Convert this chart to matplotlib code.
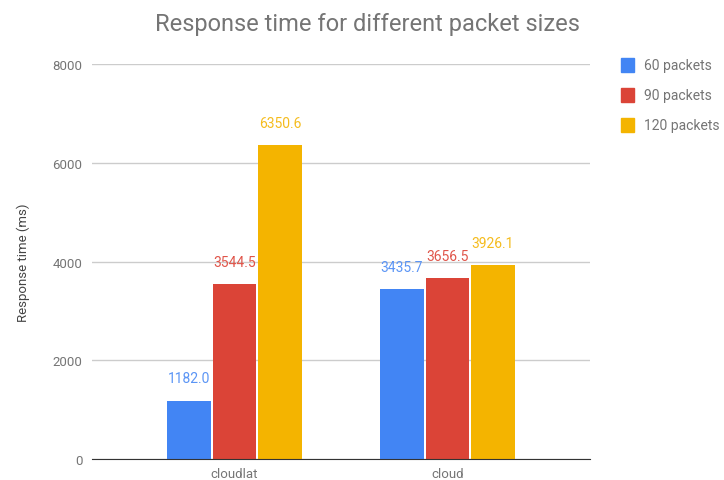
import matplotlib
matplotlib.use("Agg")
import matplotlib.pyplot as plt
from matplotlib.patches import Rectangle
import numpy as np

plt.rcParams['font.family'] = ['Roboto', 'DejaVu Sans']

categories = ["cloudlat", "cloud"]
series_names = ["60 packets", "90 packets", "120 packets"]
series_values = [
    [1182.0, 3435.7],
    [3544.5, 3656.5],
    [6350.6, 3926.1],
]
colors = ["#4285F4", "#DB4437", "#F4B400"]
label_colors = ["#5B95F5", "#E0554A", "#F5BC1E"]
yticks = [0, 2000, 4000, 6000, 8000]

W, H = 724, 481
fig = plt.figure(figsize=(W / 100, H / 100), dpi=100)
ax = fig.add_axes([92 / W, 1 - 460 / H, (590 - 92) / W, (460 - 65) / H])

x = np.arange(len(categories))
width = 0.206
step = 0.2136
for i, (name, vals) in enumerate(zip(series_names, series_values)):
    pos = x + (i - 1) * step
    ax.bar(pos, vals, width=width, color=colors[i], zorder=3)
    for px, v in zip(pos, vals):
        ax.annotate(f"{v:.1f}", (px, v), xytext=(0, 11), textcoords="offset points",
                    ha="center", va="bottom", fontsize=10, color=label_colors[i])

ax.set_xlim(-0.669, 1.669)
ax.set_ylim(0, 8000)
ax.set_yticks(yticks)
ax.set_yticklabels([str(t) for t in yticks])
ax.set_xticks(x)
ax.set_xticklabels(categories)
ax.tick_params(axis="both", length=0, labelsize=9.5, colors="#757575")
ax.tick_params(axis="y", pad=7)
ax.tick_params(axis="x", pad=6)
ax.grid(axis="y", color="#CCCCCC", linewidth=1, zorder=0)
for s in ["top", "right", "left"]:
    ax.spines[s].set_visible(False)
ax.spines["bottom"].set_color("#333333")
ax.spines["bottom"].set_zorder(4)
ax.set_ylabel("Response time (ms)", fontsize=9.5, color="#444444", labelpad=16)

fig.text(367 / W, 1 - 24 / H, "Response time for different packet sizes",
         ha="center", va="center", fontsize=17, color="#757575")

# legend drawn as swatches with labels
for i, name in enumerate(series_names):
    yc = 1 - (66 + 30 * i) / H
    fig.patches.append(Rectangle((621 / W, yc - 7 / H), 13 / W, 14 / H,
                                 transform=fig.transFigure, color=colors[i]))
    fig.text(644 / W, yc, name, ha="left", va="center", fontsize=10, color="#757575")

fig.savefig("out.png", dpi=100)
